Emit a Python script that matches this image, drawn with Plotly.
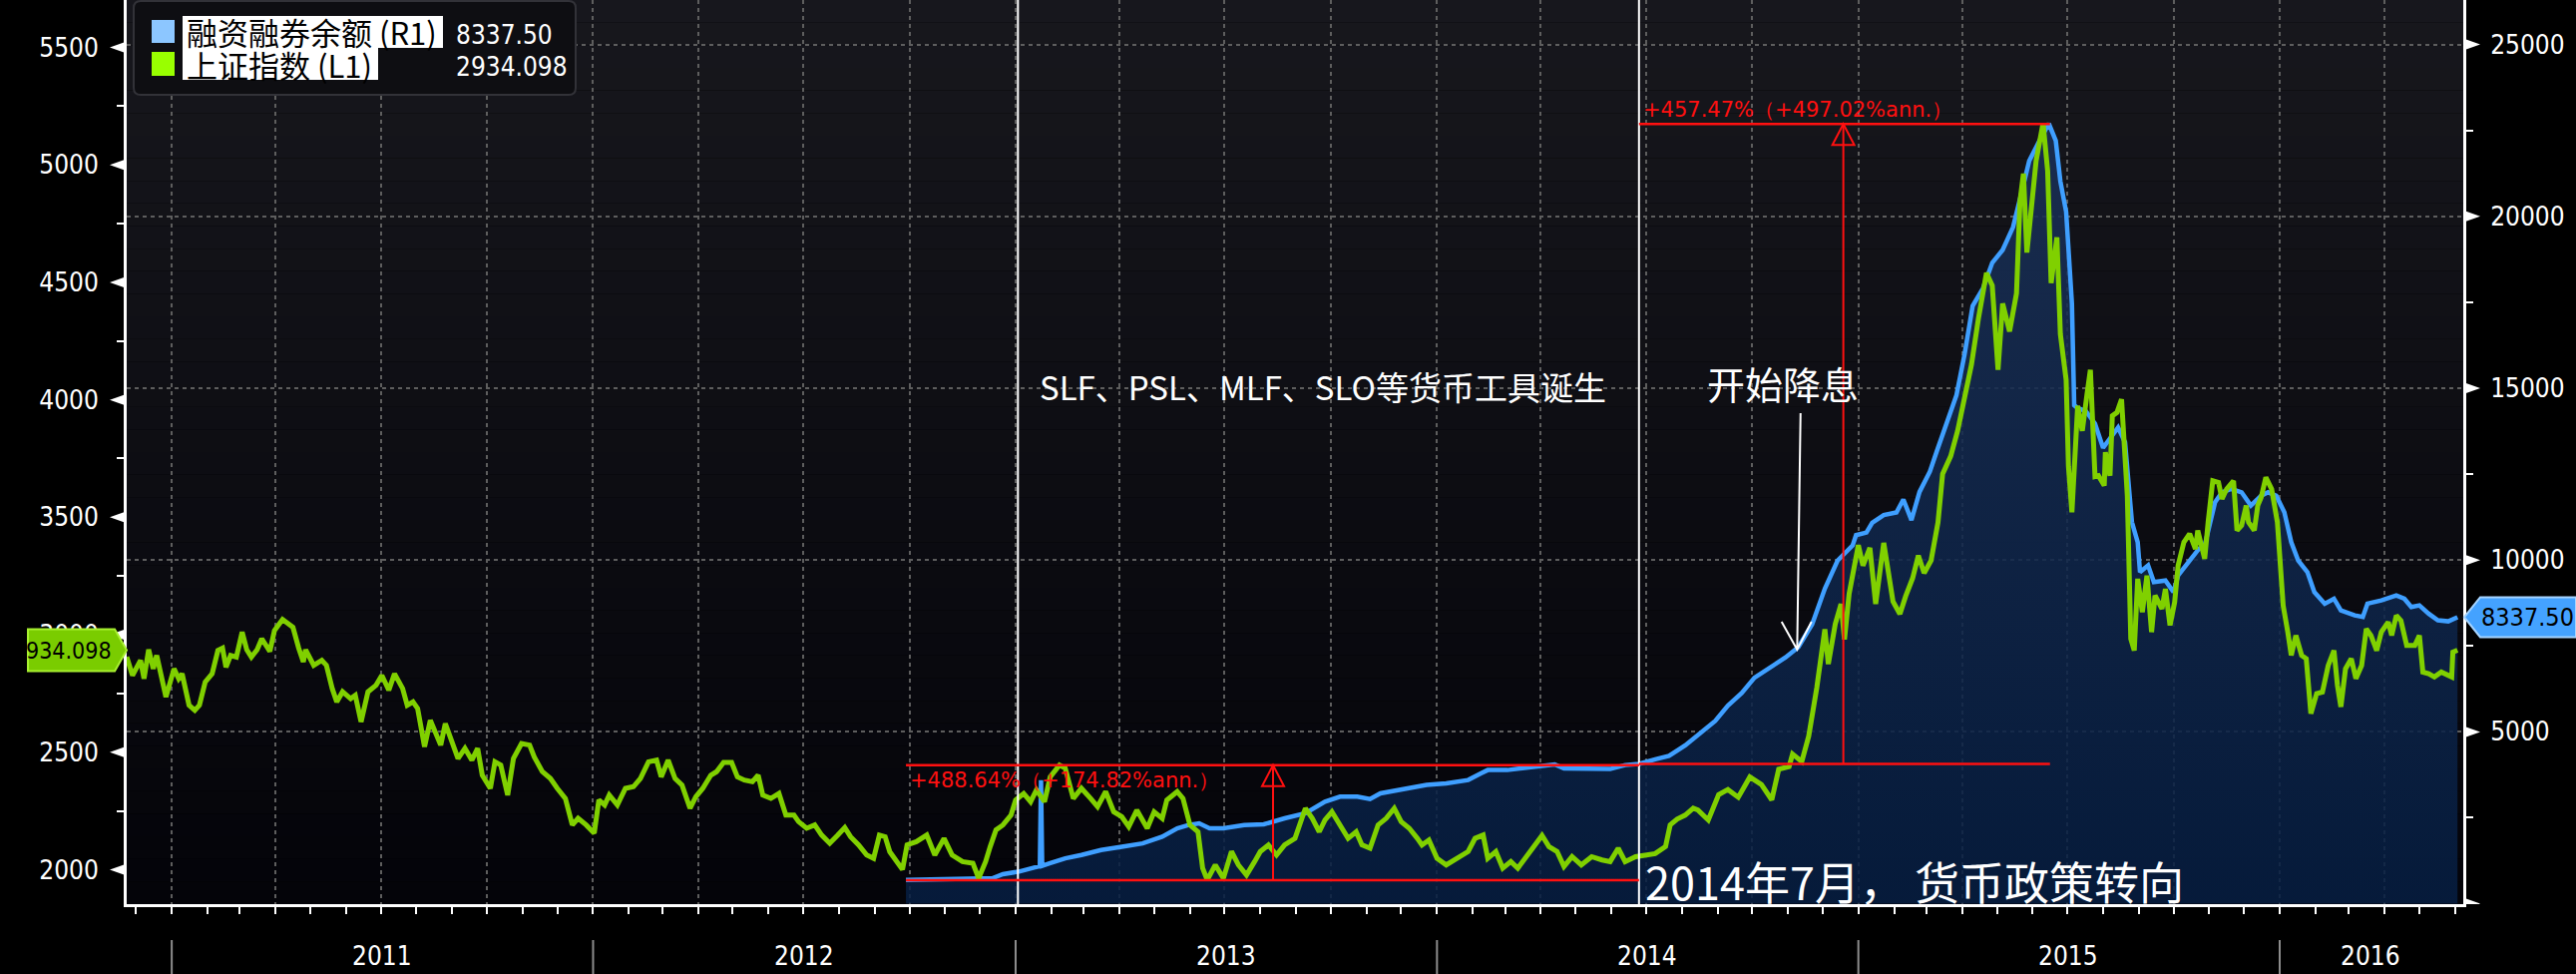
import pandas as pd
import plotly.graph_objects as go

# ---------------- data ----------------
index_dates = [
    "2010-11-23", "2010-11-28", "2010-12-05", "2010-12-08", "2010-12-12", "2010-12-16", "2010-12-19", "2010-12-27",
    "2011-01-03", "2011-01-07", "2011-01-10", "2011-01-16", "2011-01-21", "2011-01-25", "2011-01-30",
    "2011-02-05", "2011-02-10", "2011-02-14", "2011-02-17", "2011-02-21", "2011-02-26",
    "2011-03-03", "2011-03-07", "2011-03-11", "2011-03-16", "2011-03-20", "2011-03-27", "2011-03-31",
    "2011-04-07", "2011-04-12", "2011-04-16", "2011-04-21", "2011-04-25", "2011-04-27",
    "2011-05-04", "2011-05-11", "2011-05-15", "2011-05-20", "2011-05-24", "2011-05-29",
    "2011-06-05", "2011-06-09", "2011-06-14", "2011-06-20", "2011-06-27",
    "2011-07-02", "2011-07-08", "2011-07-13", "2011-07-20", "2011-07-24", "2011-07-29",
    "2011-08-02", "2011-08-08", "2011-08-13", "2011-08-18", "2011-08-22", "2011-08-26", "2011-08-31",
    "2011-09-06", "2011-09-12", "2011-09-18", "2011-09-23", "2011-09-27",
    "2011-10-04", "2011-10-08", "2011-10-13", "2011-10-19", "2011-10-24", "2011-10-31",
    "2011-11-07", "2011-11-11", "2011-11-18", "2011-11-25",
    "2011-12-01", "2011-12-08", "2011-12-14", "2011-12-19", "2011-12-26",
    "2012-01-02", "2012-01-06", "2012-01-11", "2012-01-15", "2012-01-22", "2012-01-29",
    "2012-02-05", "2012-02-11", "2012-02-18", "2012-02-25", "2012-02-29",
    "2012-03-06", "2012-03-12", "2012-03-18", "2012-03-25", "2012-03-30",
    "2012-04-05", "2012-04-12", "2012-04-17", "2012-04-23", "2012-04-30",
    "2012-05-05", "2012-05-11", "2012-05-18", "2012-05-23", "2012-05-27",
    "2012-06-03", "2012-06-10", "2012-06-16", "2012-06-23", "2012-06-27",
    "2012-07-04", "2012-07-11", "2012-07-17", "2012-07-24", "2012-07-31",
    "2012-08-06", "2012-08-11", "2012-08-18", "2012-08-25", "2012-08-31",
    "2012-09-05", "2012-09-10", "2012-09-14", "2012-09-21", "2012-09-25", "2012-09-29",
    "2012-10-07", "2012-10-16", "2012-10-23", "2012-10-31",
    "2012-11-07", "2012-11-16", "2012-11-25", "2012-11-30",
    "2012-12-06", "2012-12-10", "2012-12-15", "2012-12-21", "2012-12-28",
    "2013-01-01", "2013-01-08", "2013-01-14", "2013-01-19", "2013-01-26", "2013-01-31",
    "2013-02-08", "2013-02-13", "2013-02-20", "2013-02-27",
    "2013-03-07", "2013-03-13", "2013-03-20", "2013-03-27",
    "2013-04-03", "2013-04-09", "2013-04-16", "2013-04-25",
    "2013-05-01", "2013-05-08", "2013-05-12", "2013-05-21", "2013-05-26",
    "2013-06-01", "2013-06-08", "2013-06-12", "2013-06-16", "2013-06-23", "2013-06-30",
    "2013-07-07", "2013-07-13", "2013-07-20", "2013-07-27",
    "2013-08-01", "2013-08-08", "2013-08-15", "2013-08-22", "2013-08-31",
    "2013-09-09", "2013-09-15", "2013-09-21", "2013-09-26",
    "2013-10-02", "2013-10-09", "2013-10-16", "2013-10-23", "2013-10-28",
    "2013-11-04", "2013-11-11", "2013-11-18", "2013-11-25",
    "2013-12-01", "2013-12-08", "2013-12-15", "2013-12-19", "2013-12-25",
    "2014-01-01", "2014-01-09", "2014-01-18", "2014-01-28",
    "2014-02-03", "2014-02-10", "2014-02-14", "2014-02-21", "2014-02-27",
    "2014-03-06", "2014-03-12", "2014-03-20", "2014-03-27",
    "2014-04-02", "2014-04-08", "2014-04-15", "2014-04-21", "2014-04-28",
    "2014-05-06", "2014-05-15", "2014-05-24", "2014-05-31",
    "2014-06-07", "2014-06-13", "2014-06-22",
    "2014-07-01", "2014-07-09", "2014-07-18", "2014-07-22", "2014-07-28",
    "2014-08-04", "2014-08-11", "2014-08-15", "2014-08-24",
    "2014-09-02", "2014-09-10", "2014-09-19", "2014-09-29",
    "2014-10-09", "2014-10-18", "2014-10-24",
    "2014-11-02", "2014-11-05", "2014-11-13", "2014-11-19", "2014-11-26",
    "2014-12-03", "2014-12-06", "2014-12-12", "2014-12-17", "2014-12-20", "2014-12-24",
    "2015-01-01", "2015-01-05", "2015-01-11", "2015-01-16", "2015-01-23", "2015-01-31",
    "2015-02-06", "2015-02-11", "2015-02-17", "2015-02-22", "2015-02-27",
    "2015-03-05", "2015-03-11", "2015-03-15", "2015-03-22", "2015-03-28",
    "2015-04-03", "2015-04-09", "2015-04-15", "2015-04-22", "2015-04-27",
    "2015-05-02", "2015-05-06", "2015-05-12", "2015-05-18", "2015-05-21", "2015-05-24", "2015-05-27", "2015-05-31",
    "2015-06-04", "2015-06-10", "2015-06-14", "2015-06-17", "2015-06-22", "2015-06-25", "2015-06-30",
    "2015-07-02", "2015-07-05", "2015-07-10", "2015-07-14", "2015-07-18", "2015-07-21", "2015-07-25", "2015-07-28",
    "2015-08-02", "2015-08-03", "2015-08-07", "2015-08-09", "2015-08-13", "2015-08-17", "2015-08-22", "2015-08-25", "2015-08-28", "2015-08-31",
    "2015-09-04", "2015-09-08", "2015-09-12", "2015-09-15", "2015-09-21", "2015-09-24", "2015-09-28",
    "2015-10-02", "2015-10-05", "2015-10-10", "2015-10-15", "2015-10-20", "2015-10-22", "2015-10-28", "2015-10-31",
    "2015-11-04", "2015-11-09", "2015-11-12", "2015-11-16", "2015-11-22", "2015-11-25", "2015-11-29",
    "2015-12-03", "2015-12-05", "2015-12-10", "2015-12-13", "2015-12-16", "2015-12-20", "2015-12-25", "2015-12-28", "2015-12-30",
    "2016-01-01", "2016-01-04", "2016-01-08", "2016-01-11", "2016-01-15", "2016-01-20", "2016-01-24", "2016-01-28",
    "2016-02-02", "2016-02-07", "2016-02-12", "2016-02-17", "2016-02-20", "2016-02-23", "2016-02-27",
    "2016-03-03", "2016-03-07", "2016-03-12", "2016-03-16", "2016-03-20", "2016-03-25", "2016-03-29",
    "2016-04-04", "2016-04-07", "2016-04-11", "2016-04-15", "2016-04-20", "2016-04-27",
    "2016-05-01", "2016-05-04", "2016-05-09", "2016-05-14", "2016-05-20", "2016-05-29", "2016-05-30", "2016-06-03",
]
index_vals = [
    2905, 2827, 2891, 2813, 2937, 2855, 2912, 2735,
    2855, 2813, 2834, 2700, 2678, 2700, 2799,
    2834, 2933, 2943, 2862, 2912, 2905,
    3011, 2936, 2905, 2936, 2983, 2929, 3018,
    3065, 3046, 3032, 2943, 2884, 2936,
    2870, 2891, 2870, 2771, 2714, 2757,
    2728, 2742, 2629, 2757, 2785,
    2827, 2764, 2834, 2771, 2700, 2714,
    2686, 2523, 2636, 2572, 2530, 2622, 2558,
    2473, 2516, 2466, 2516, 2402,
    2346, 2459, 2445, 2317, 2473, 2537,
    2530, 2480, 2417, 2388,
    2346, 2303, 2190, 2218, 2190,
    2155, 2296, 2275, 2317, 2275, 2346,
    2353, 2388, 2459, 2466, 2395,
    2466, 2388, 2360, 2261, 2310,
    2346, 2402, 2417, 2456, 2456,
    2395, 2381, 2374, 2402, 2317,
    2303, 2324, 2232, 2232, 2204,
    2176, 2190, 2147, 2112, 2147,
    2179, 2140, 2105, 2062, 2048,
    2147, 2140, 2076, 2027, 2000, 2105,
    2119, 2147, 2062, 2133,
    2062, 2034, 2027, 1963,
    2034, 2098, 2169, 2190, 2232,
    2296, 2324, 2289, 2339, 2289, 2395,
    2445, 2431, 2303, 2346,
    2303, 2268, 2332, 2246,
    2225, 2183, 2253, 2176,
    2246, 2218, 2296, 2332, 2303,
    2190, 2161, 2006, 1956, 2020, 1963,
    2077, 2020, 1977, 2034,
    2077, 2105, 2062, 2105, 2133,
    2261, 2218, 2161, 2211,
    2246, 2190, 2133, 2161, 2105,
    2091, 2190, 2218, 2261,
    2204, 2176, 2133, 2105, 2126,
    2048, 2020, 2048, 2077,
    2133, 2147, 2048, 2077, 2006,
    2034, 2006, 2062, 2105,
    2145, 2098, 2077, 2013, 2055,
    2020, 2055, 2041, 2034,
    2091, 2034, 2055,
    2062, 2068, 2098, 2190, 2215,
    2232, 2261, 2254, 2211,
    2319, 2341, 2308, 2394,
    2362, 2297, 2427,
    2438, 2492, 2460, 2568, 2774,
    3023, 2875, 3045, 3131, 2980, 3174,
    3381, 3294, 3370, 3131, 3391, 3142,
    3088, 3164, 3240, 3337, 3262,
    3316, 3478, 3684, 3760, 3868,
    4020, 4150, 4345, 4540, 4486,
    4128, 4410, 4291, 4453, 4844, 4963, 4627, 4822,
    5018, 5178, 4974, 4497, 4692, 4280, 4085,
    3717, 3521, 3974, 3868, 4020, 4128, 3673, 3677,
    3635, 3777, 3677, 3932, 3946, 4002, 3592, 2983, 2933, 3238,
    3096, 3252, 3011, 3167, 3110, 3195, 3040,
    3139, 3295, 3394, 3430, 3365, 3444, 3323, 3479,
    3655, 3648, 3578, 3620, 3655, 3444, 3465,
    3550, 3479, 3444, 3550, 3585, 3670, 3620, 3542, 3479,
    3337, 3124, 3011, 2912, 2997, 2912, 2898, 2664,
    2749, 2756, 2869, 2933, 2785, 2693, 2855,
    2898, 2813, 2869, 3025, 2997, 2933, 3011,
    3054, 2997, 3082, 3060, 2954, 2954,
    2997, 2841, 2834, 2820, 2841, 2820, 2926, 2934.098,
]

margin_dates = [
    "2012-09-28", "2012-10-31", "2012-12-12", "2012-12-21",
    "2013-01-04", "2013-01-17", "2013-01-22", "2013-01-23", "2013-01-24", "2013-01-31",
    "2013-02-13", "2013-02-27", "2013-03-16", "2013-04-03", "2013-04-21",
    "2013-05-08", "2013-05-21", "2013-05-31", "2013-06-09", "2013-06-18", "2013-06-30", "2013-07-18",
    "2013-08-04", "2013-08-22", "2013-09-09", "2013-09-26", "2013-10-09", "2013-10-24", "2013-11-04", "2013-11-13", "2013-12-01", "2013-12-23",
    "2014-01-09", "2014-01-28", "2014-02-08", "2014-02-14", "2014-03-03", "2014-03-22", "2014-04-13", "2014-04-21", "2014-05-09", "2014-05-31", "2014-06-13", "2014-06-25",
    "2014-07-09", "2014-07-21", "2014-08-04", "2014-08-19", "2014-08-30", "2014-09-10", "2014-09-22", "2014-10-03", "2014-10-19", "2014-10-30", "2014-11-10", "2014-11-22", "2014-12-03", "2014-12-14", "2014-12-27", "2014-12-30",
    "2015-01-08", "2015-01-13", "2015-01-23", "2015-02-03", "2015-02-09", "2015-02-16", "2015-02-23", "2015-03-04", "2015-03-10", "2015-03-18", "2015-03-27",
    "2015-04-03", "2015-04-10", "2015-04-19", "2015-04-27", "2015-05-06", "2015-05-15", "2015-05-21", "2015-05-29", "2015-06-07", "2015-06-15", "2015-06-21", "2015-06-25", "2015-06-30",
    "2015-07-02", "2015-07-05", "2015-07-07", "2015-07-10", "2015-07-17", "2015-07-25", "2015-08-01", "2015-08-10", "2015-08-14", "2015-08-20", "2015-08-26", "2015-08-31",
    "2015-09-02", "2015-09-09", "2015-09-14", "2015-09-24", "2015-10-01", "2015-10-05", "2015-10-14", "2015-10-23", "2015-10-28",
    "2015-11-06", "2015-11-12", "2015-11-20", "2015-11-29", "2015-12-07", "2015-12-16", "2015-12-22", "2015-12-29",
    "2016-01-05", "2016-01-11", "2016-01-17", "2016-01-25", "2016-01-31", "2016-02-09", "2016-02-17", "2016-02-23",
    "2016-03-06", "2016-03-13", "2016-03-17", "2016-03-29", "2016-04-11", "2016-04-18", "2016-04-24", "2016-05-01", "2016-05-09", "2016-05-17", "2016-05-26", "2016-06-03",
]
margin_vals = [
    694, 720, 742, 860,
    937, 1053, 1090, 3598, 1100, 1179,
    1320, 1417, 1562, 1659, 1756,
    1949, 2195, 2291, 2340, 2195, 2195, 2291,
    2311, 2485, 2630, 2970, 3115, 3115, 3048, 3213, 3310, 3455,
    3503, 3600, 3792, 3890, 3890, 3957, 4054, 3938, 3919, 3919, 4035, 4070,
    4200, 4300, 4605, 5020, 5318, 5763, 6134, 6577, 6947, 7168, 7465, 8133, 9170, 9985, 10423, 10726,
    10800, 11087, 11310, 11385, 11762, 11165, 11983, 12578, 13171, 13911, 14800,
    15984, 17393, 17909, 18650, 19021, 19686, 20502, 21614, 22207, 22700, 22207, 21022, 20134,
    18946, 17465, 14503, 14420, 14338, 13968, 13265, 13713, 13858, 13426, 11100, 10519,
    9648, 9842, 9358, 9406, 9068, 9552, 9939, 10326, 10423,
    11681, 11971, 12068, 11971, 11584, 11874, 11971, 11874,
    11390, 10519, 9987, 9648, 9068, 8730, 8875, 8536,
    8391, 8343, 8730, 8827, 8972, 8875, 8633, 8682, 8440, 8246, 8217, 8337.50,
]
assert len(index_dates) == len(index_vals)
assert len(margin_dates) == len(margin_vals)

series_names = ["融资融券余额 (R1)", "上证指数 (L1)"]
left_ticks = [2000, 2500, 3000, 3500, 4000, 4500, 5000, 5500]
right_ticks = [0, 5000, 10000, 15000, 20000, 25000]
right_ticktext = ["", "5000", "10000", "15000", "20000", "25000"]
years = [2011, 2012, 2013, 2014, 2015, 2016]
x_range = ["2010-11-23", "2016-06-08"]
left_range = [1853, 5702]
right_range = [-12, 26295]

# measuring-tool annotations (on margin balance axis)
m1_start, m1_end, m1_x = "2014-06-25", "2015-06-16", "2014-12-19"
m1_low, m1_high = 4070, 22689
m1_text = "+457.47%（+497.02%ann.）"
m2_start, m2_end, m2_x = "2012-09-28", "2014-06-25", "2013-08-12"
m2_low, m2_high = 685, 4032
m2_text = "+488.64%（+174.82%ann.）"
event_lines = ["2013-01-03", "2014-06-25"]
rate_cut_date, rate_cut_level = "2014-11-09", 7393
note_tools = "SLF、PSL、MLF、SLO等货币工具诞生"
note_cut = "开始降息"
note_turn = "2014年7月， 货币政策转向"

# ---------------- styling ----------------
W, H = 2582, 976
PL, PR, PT, PB = 127, 2469, 0, 906
NARROW = "DejaVu Sans Condensed, Liberation Sans, sans-serif"
CJK = "Noto Sans CJK SC, Noto Sans, sans-serif"
REDFONT = "DejaVu Sans, Verdana, sans-serif"
BLUE = "#3f9fff"
GREEN = "#80d000"
RED = "#ff1010"
GRID = "#5e5e5e"
DASH = "4px,4px"
LABEL_SIZE = 26


def pxx(x):
    return (x - PL) / (PR - PL)


def pxy(y):
    return (PB - y) / (PB - PT)


fig = go.Figure()
fig.add_trace(go.Scatter(
    x=margin_dates, y=margin_vals, yaxis="y", mode="lines", name=series_names[0],
    line=dict(color=BLUE, width=4.5),
    fill="tozeroy",
    fillgradient=dict(type="vertical",
                      colorscale=[[0, "rgba(6,30,66,0.86)"], [1, "rgba(26,48,86,0.86)"]]),
    hoverinfo="skip"))
fig.add_trace(go.Scatter(
    x=index_dates, y=index_vals, yaxis="y2", mode="lines", name=series_names[1],
    line=dict(color=GREEN, width=5), hoverinfo="skip"))

shapes = []
annotations = []

# plot background gradient
N = 40
top_c, bot_c = (23, 23, 29), (4, 4, 9)
for i in range(N):
    t = i / (N - 1)
    c = tuple(round(top_c[k] + (bot_c[k] - top_c[k]) * t) for k in range(3))
    shapes.append(dict(type="rect", xref="paper", yref="paper", x0=0, x1=1,
                       y0=1 - i / N, y1=1 - (i + 1) / N, fillcolor="rgb(%d,%d,%d)" % c,
                       line=dict(width=0), layer="below"))

# axis tick triangles
for v in left_ticks:
    shapes.append(dict(type="path", xref="paper", yref="y2", xsizemode="pixel", ysizemode="pixel",
                       xanchor=0, yanchor=v, path="M 0 6 L -17 0 L 0 -6 Z",
                       fillcolor="white", line=dict(width=0)))
for v in right_ticks:
    shapes.append(dict(type="path", xref="paper", yref="y", xsizemode="pixel", ysizemode="pixel",
                       xanchor=1, yanchor=v, path="M 0 6 L 17 0 L 0 -6 Z",
                       fillcolor="white", line=dict(width=0)))

# year separators and labels
r0, r1 = pd.Timestamp(x_range[0]), pd.Timestamp(x_range[1])
for yr in years:
    shapes.append(dict(type="line", xref="x", yref="paper", x0=f"{yr}-01-01", x1=f"{yr}-01-01",
                       y0=pxy(942), y1=pxy(976), line=dict(color="#8c8c8c", width=2)))
    a = max(pd.Timestamp(f"{yr}-01-01"), r0)
    b = min(pd.Timestamp(f"{yr + 1}-01-01"), r1)
    mid = a + (b - a) / 2
    annotations.append(dict(xref="x", yref="paper", x=mid.strftime("%Y-%m-%d"), y=pxy(958),
                            text=str(yr), showarrow=False, xanchor="center", yanchor="middle",
                            font=dict(family=NARROW, size=LABEL_SIZE, color="white")))

# event vertical lines
for d in event_lines:
    shapes.append(dict(type="line", xref="x", yref="paper", x0=d, x1=d, y0=0, y1=1,
                       line=dict(color="white", width=2)))

# measuring tool lines
for (x0, x1, yv) in [(m2_start, m2_end, m2_low), (m2_start, m2_end, m2_high),
                     (m1_start, m1_end, m1_low), (m1_start, m1_end, m1_high)]:
    shapes.append(dict(type="line", xref="x", yref="y", x0=x0, x1=x1, y0=yv, y1=yv,
                       line=dict(color=RED, width=2.5)))
for (xv, lo, hi) in [(m2_x, m2_low, m2_high), (m1_x, m1_low, m1_high)]:
    shapes.append(dict(type="line", xref="x", yref="y", x0=xv, x1=xv, y0=lo, y1=hi,
                       line=dict(color=RED, width=2)))
    shapes.append(dict(type="path", xref="x", yref="y", xsizemode="pixel", ysizemode="pixel",
                       xanchor=xv, yanchor=hi, path="M 0 0 L -11 -21 L 11 -21 Z",
                       fillcolor="rgba(0,0,0,0)", line=dict(color=RED, width=2)))
annotations.append(dict(xref="x", yref="y", x=m1_start, y=m1_high, text=m1_text, showarrow=False,
                        xanchor="left", yanchor="bottom", xshift=2, yshift=0,
                        font=dict(family=REDFONT, size=21, color=RED)))
annotations.append(dict(xref="x", yref="y", x=m2_start, y=m2_high, text=m2_text, showarrow=False,
                        xanchor="left", yanchor="top", xshift=2, yshift=-1,
                        font=dict(family=REDFONT, size=21, color=RED)))

# rate cut arrow (open V head)
shapes.append(dict(type="path", xref="x", yref="y", xsizemode="pixel", ysizemode="pixel",
                   xanchor=rate_cut_date, yanchor=rate_cut_level,
                   path="M 3.4 237 L 0 0 M -15.6 28 L 0 0 L 14.4 28",
                   line=dict(color="white", width=2)))

# white notes
annotations.append(dict(xref="paper", yref="paper", x=pxx(1040), y=pxy(387), text=note_tools,
                        showarrow=False, xanchor="left", yanchor="middle",
                        font=dict(family=CJK, size=33, color="white")))
annotations.append(dict(xref="paper", yref="paper", x=pxx(1709), y=pxy(383), text=note_cut,
                        showarrow=False, xanchor="left", yanchor="middle",
                        font=dict(family=CJK, size=38, color="white")))
annotations.append(dict(xref="paper", yref="paper", x=pxx(1647), y=pxy(882), text=note_turn,
                        showarrow=False, xanchor="left", yanchor="middle",
                        font=dict(family=CJK, size=45, color="white")))

# last value tags
last_idx = index_vals[-1]
last_mgn = margin_vals[-1]
shapes.append(dict(type="path", xref="paper", yref="y2", xsizemode="pixel", ysizemode="pixel",
                   xanchor=0, yanchor=last_idx,
                   path="M -99 21 L -12 21 L 0 0 L -12 -21 L -99 -21 Z",
                   fillcolor="#7acc00", line=dict(color="#a8f030", width=2)))
annotations.append(dict(xref="paper", yref="y2", x=pxx(114), y=last_idx, text=f"{last_idx:.3f}"[1:],
                        showarrow=False, xanchor="right", yanchor="middle",
                        font=dict(family=NARROW, size=23, color="black")))
shapes.append(dict(type="path", xref="paper", yref="y", xsizemode="pixel", ysizemode="pixel",
                   xanchor=1, yanchor=last_mgn,
                   path="M 1 0 L 17 20 L 113 20 L 113 -20 L 17 -20 Z",
                   fillcolor="#44a2ff", line=dict(color="#a6d4ff", width=2)))
annotations.append(dict(xref="paper", yref="y", x=pxx(2485), y=last_mgn, text=f"{last_mgn:.2f}",
                        showarrow=False, xanchor="left", yanchor="middle",
                        font=dict(family=NARROW, size=25, color="black")))

# custom legend box
shapes.append(dict(type="path", xref="paper", yref="paper", xsizemode="pixel", ysizemode="pixel",
                   xanchor=pxx(134), yanchor=pxy(1),
                   path="M 7 0 L 436 0 Q 443 0 443 -7 L 443 -87 Q 443 -94 436 -94 L 7 -94 "
                        "Q 0 -94 0 -87 L 0 -7 Q 0 0 7 0 Z",
                   fillcolor="rgb(14,14,18)", line=dict(color="rgb(50,50,56)", width=2)))
legend_rows = [
    (series_names[0], "#8cc6ff", 20, 43, 16, 48, 444, f"{last_mgn:.2f}", 32),
    (series_names[1], "#99ff00", 52, 76, 48, 80, 379, f"{last_idx:.3f}", 64),
]
for name, col, sy0, sy1, hy0, hy1, hx1, val, cy in legend_rows:
    shapes.append(dict(type="rect", xref="paper", yref="paper", x0=pxx(152), x1=pxx(175),
                       y0=pxy(sy1), y1=pxy(sy0), fillcolor=col, line=dict(width=0)))
    shapes.append(dict(type="rect", xref="paper", yref="paper", x0=pxx(183), x1=pxx(hx1),
                       y0=pxy(hy1), y1=pxy(hy0), fillcolor="white", line=dict(width=0)))
    annotations.append(dict(xref="paper", yref="paper", x=pxx(185), y=pxy(cy), text=name,
                            showarrow=False, xanchor="left", yanchor="middle",
                            font=dict(family=CJK, size=31, color="black")))
    annotations.append(dict(xref="paper", yref="paper", x=pxx(455), y=pxy(cy + 3), text=val,
                            showarrow=False, xanchor="left", yanchor="middle",
                            font=dict(family=NARROW, size=LABEL_SIZE, color="white")))

minor_left = [v + 250 for v in left_ticks]
minor_right = [v + 2500 for v in right_ticks]
tickfont = dict(family=NARROW, size=LABEL_SIZE, color="white")

fig.update_layout(
    width=W, height=H,
    margin=dict(l=PL, r=W - PR, t=PT, b=H - PB),
    paper_bgcolor="black", plot_bgcolor="rgba(0,0,0,0)",
    showlegend=False, hovermode=False,
    xaxis=dict(type="date", range=x_range, showgrid=True, gridcolor=GRID, griddash=DASH, gridwidth=1.5,
               tickmode="linear", tick0="2011-01-01", dtick="M3", ticks="outside", ticklen=7,
               tickwidth=2, tickcolor="white", showticklabels=False,
               minor=dict(tickmode="linear", tick0="2011-01-01", dtick="M1", ticks="outside",
                          ticklen=7, tickwidth=2, tickcolor="white", showgrid=False),
               showline=True, linecolor="white", linewidth=3, zeroline=False),
    yaxis=dict(range=right_range, side="right", tickmode="array", tickvals=right_ticks,
               ticktext=right_ticktext, ticks="", showgrid=True, gridcolor=GRID, griddash=DASH,
               gridwidth=1.5, tickfont=tickfont, ticklabelstandoff=19,
               minor=dict(tickmode="array", tickvals=minor_right, ticks="outside", ticklen=7,
                          tickwidth=2, tickcolor="white", showgrid=False),
               showline=True, linecolor="white", linewidth=3, zeroline=False),
    yaxis2=dict(range=left_range, side="left", overlaying="y", tickmode="array", tickvals=left_ticks,
                ticktext=[str(v) for v in left_ticks], ticks="", showgrid=False,
                tickfont=tickfont, ticklabelstandoff=20,
                minor=dict(tickmode="array", tickvals=minor_left, ticks="outside", ticklen=7,
                           tickwidth=2, tickcolor="white", showgrid=False),
                showline=True, linecolor="white", linewidth=3, zeroline=False),
    shapes=shapes, annotations=annotations,
)

fig.write_html("out.html", config={"displayModeBar": False},
               post_script="document.body.style.margin='0';document.body.style.overflow='hidden';")
